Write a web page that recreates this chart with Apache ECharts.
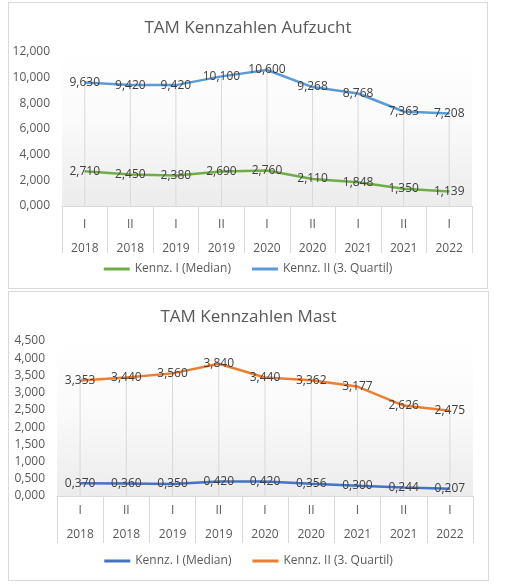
<!DOCTYPE html>
<html>
<head>
<meta charset="utf-8">
<script src="https://cdn.jsdelivr.net/npm/echarts@6/dist/echarts.min.js"></script>
<style>
  body { margin: 0; background: #fff; }
  .box { position: absolute; border: 1px solid #d9d9d9; box-sizing: border-box; background: #fff; }
</style>
</head>
<body>
<div id="main1" class="box" style="left:8px;top:2px;width:480px;height:287px;"></div>
<div id="main2" class="box" style="left:8px;top:291px;width:481px;height:290px;"></div>
<script>
var halbjahre = ['I', 'II', 'I', 'II', 'I', 'II', 'I', 'II', 'I'];
var jahre = ['2018', '2018', '2019', '2019', '2020', '2020', '2021', '2021', '2022'];
var kategorien = halbjahre.map(function (h, i) { return h + '\n' + jahre[i]; });

var aufzuchtMedian = [2.710, 2.450, 2.380, 2.690, 2.760, 2.110, 1.848, 1.350, 1.139];
var aufzuchtQuartil = [9.630, 9.420, 9.420, 10.100, 10.600, 9.268, 8.768, 7.363, 7.208];
var mastMedian = [0.370, 0.360, 0.350, 0.420, 0.420, 0.356, 0.300, 0.244, 0.207];
var mastQuartil = [3.353, 3.440, 3.560, 3.840, 3.440, 3.362, 3.177, 2.626, 2.475];

var nameMedian = 'Kennz. I (Median)';
var nameQuartil = 'Kennz. II (3. Quartil)';

function fmt(v) {
  return v.toFixed(3).replace('.', ',');
}

function buildOption(titel, median, quartil, colMedian, colQuartil, yMax, yStep, gridLeft, gridBottom, labelMargin) {
  var font = '"Open Sans", "Noto Sans", sans-serif';
  var lbl = {
    show: true,
    position: 'inside',
    color: '#404040',
    fontSize: 12,
    fontFamily: font,
    formatter: function (p) { return fmt(p.value); }
  };
  return {
    animation: false,
    title: {
      text: titel,
      left: 'center',
      top: 12,
      textStyle: { color: '#595959', fontSize: 17, fontWeight: 'normal', fontFamily: font }
    },
    legend: {
      data: [nameMedian, nameQuartil],
      bottom: 8,
      left: 'center',
      itemWidth: 26,
      itemHeight: 3,
      itemGap: 21,
      icon: 'rect',
      textStyle: { color: '#595959', fontSize: 12, fontFamily: font }
    },
    grid: {
      left: gridLeft,
      right: 15,
      top: 49,
      bottom: gridBottom,
      show: true,
      borderWidth: 0,
      backgroundColor: new echarts.graphic.LinearGradient(0, 0, 0, 1, [
        { offset: 0, color: 'rgba(255,255,255,1)' },
        { offset: 0.45, color: 'rgba(250,250,250,1)' },
        { offset: 1, color: 'rgba(236,236,236,1)' }
      ])
    },
    xAxis: {
      type: 'category',
      data: kategorien,
      boundaryGap: true,
      axisLine: { lineStyle: { color: '#d9d9d9' } },
      axisTick: { show: true, length: 47, lineStyle: { color: '#d9d9d9' } },
      axisLabel: {
        color: '#595959',
        fontSize: 12,
        fontFamily: font,
        lineHeight: 24,
        margin: labelMargin,
        interval: 0
      },
      splitLine: { show: false }
    },
    yAxis: {
      type: 'value',
      min: 0,
      max: yMax,
      interval: yStep,
      axisLine: { show: false },
      axisTick: { show: false },
      splitLine: { show: false },
      axisLabel: {
        color: '#595959',
        fontSize: 12,
        fontFamily: font,
        margin: 12,
        formatter: function (v) { return fmt(v); }
      }
    },
    series: [
      {
        name: 'drop',
        type: 'bar',
        data: quartil,
        barWidth: 1,
        silent: true,
        z: 1,
        itemStyle: { color: '#d9d9d9' }
      },
      {
        name: nameMedian,
        type: 'line',
        data: median,
        symbol: 'circle',
        symbolSize: 1,
        showSymbol: true,
        z: 3,
        lineStyle: { color: colMedian, width: 2.5 },
        itemStyle: { color: colMedian },
        label: lbl
      },
      {
        name: nameQuartil,
        type: 'line',
        data: quartil,
        symbol: 'circle',
        symbolSize: 1,
        showSymbol: true,
        z: 3,
        lineStyle: { color: colQuartil, width: 2.5 },
        itemStyle: { color: colQuartil },
        label: lbl
      }
    ]
  };
}

var chart1 = echarts.init(document.getElementById('main1'));
chart1.setOption(buildOption('TAM Kennzahlen Aufzucht', aufzuchtMedian, aufzuchtQuartil,
  '#70ad47', '#5b9bd5', 12, 2, 53, 82, 7));

var chart2 = echarts.init(document.getElementById('main2'));
chart2.setOption(buildOption('TAM Kennzahlen Mast', mastMedian, mastQuartil,
  '#4472c4', '#ed7d31', 4.5, 0.5, 48, 84, 3));

window.onresize = function () {
  chart1.resize();
  chart2.resize();
};
</script>
</body>
</html>
